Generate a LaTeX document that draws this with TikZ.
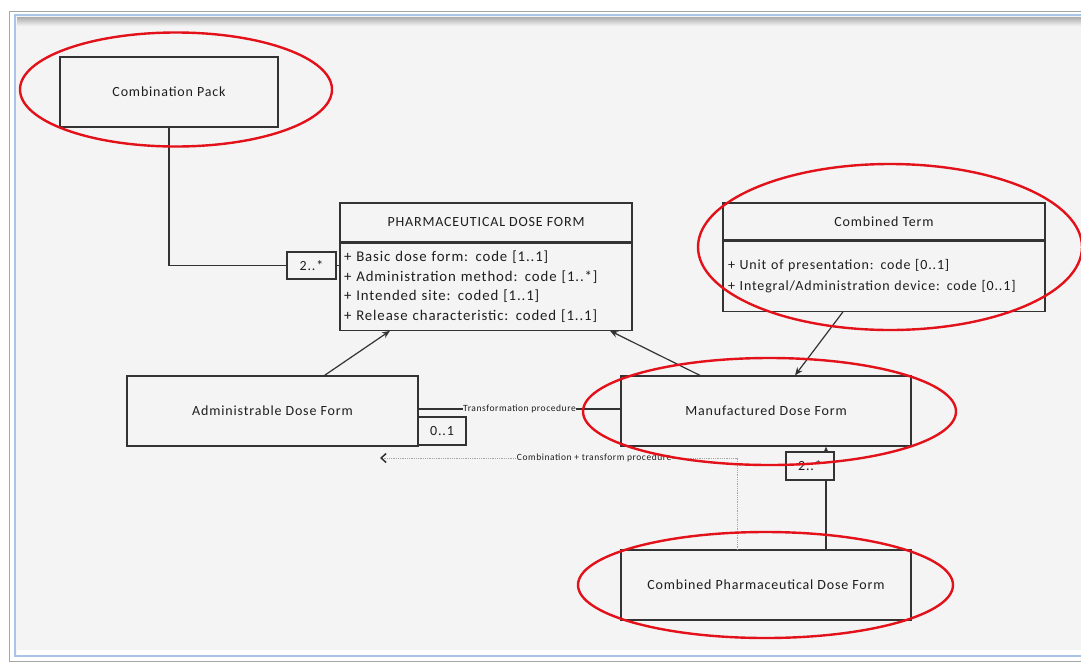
\documentclass[tikz,border=0pt]{standalone}
\usepackage{fontspec}
\setmainfont{Carlito}[LetterSpace=6]
\usetikzlibrary{positioning, arrows.meta}
\tikzset{>={Stealth[length=8pt, width=6.5pt]}}
\definecolor{bg}{HTML}{F4F4F4}
\definecolor{linegray}{HTML}{333333}
\definecolor{textgray}{HTML}{1E1E1E}
\definecolor{ringred}{HTML}{E3121A}
\definecolor{frameblue}{HTML}{A8C4E6}
\tikzset{
  classbox/.style={draw=linegray, line width=1.2pt, text=textgray, inner sep=0pt,
    font=\fontsize{14}{16}\selectfont},
  attrbox/.style={classbox, align=left, anchor=north},
  multbox/.style={classbox, fill=bg, minimum width=48, minimum height=27},
  conn/.style={draw=linegray, line width=1.2pt},
  dotconn/.style={draw=gray!70, line width=0.8pt, densely dotted},
  smalllabel/.style={font=\fontsize{9.5}{11}\selectfont, text=textgray, fill=bg, inner sep=0.5pt},
  ring/.style={draw=ringred, line width=2.4pt}
}

\begin{document}
\begin{tikzpicture}[x=1pt, y=-1pt]
    \useasboundingbox (0,0) rectangle (1081,662);
    % window frame
    \fill[white] (0,0) rectangle (1081,662);
    \draw[gray!70, fill=white] (9,11) rectangle (1090,661);
    \draw[frameblue, line width=1.2pt, fill=bg] (15,15) rectangle (1090,656);
    \shade[top color=gray!65, bottom color=bg] (17,17) rectangle (1090,26);
    \fill[white] (17,650) rectangle (1090,655);

    % classes
    \node[classbox, minimum width=218, minimum height=70] (pack) at (169,92) {Combination Pack};

    \node[classbox, minimum width=292, minimum height=39] (pdfhead) at (486,222.5) {PHARMACEUTICAL DOSE FORM};
    \node[attrbox, minimum width=292, minimum height=87, text width=284,
          font=\fontsize{14.8}{19.7}\selectfont] (pdfattr) at (pdfhead.south)
        {+ Basic dose form: code [1..1]\\
         + Administration method: code [1..*]\\
         + Intended site: coded [1..1]\\
         + Release characteristic: coded [1..1]};

    \node[classbox, minimum width=322, minimum height=37] (cthead) at (884,221.5) {Combined Term};
    \node[attrbox, minimum width=322, minimum height=70, text width=312,
          font=\fontsize{14}{21}\selectfont] (ctattr) at (cthead.south)
        {+ Unit of presentation: code [0..1]\\
         + Integral/Administration device: code [0..1]};

    \node[classbox, minimum width=291, minimum height=70] (adf) at (272.5,411) {Administrable Dose Form};
    \node[classbox, minimum width=290, minimum height=70] (mdf) at (766,411) {Manufactured Dose Form};
    \node[classbox, minimum width=290, minimum height=70] (cpdf) at (766,585) {Combined Pharmaceutical Dose Form};

    % connectors
    \draw[conn] (pack.south) |- (311,265.5) coordinate (packend);
    \draw[conn, ->] ([xshift=52]adf.north) -- ([xshift=-96]pdfattr.south);
    \draw[conn, ->] ([xshift=-66]mdf.north) -- ([xshift=124]pdfattr.south);
    \draw[conn, ->] ([xshift=-41]ctattr.south) -- ([xshift=29]mdf.north);
    \draw[conn] ([yshift=2]adf.east) -- node[smalllabel] {Transformation procedure} ([yshift=2]mdf.west);
    \coordinate (dotend) at (380,458);
    \draw[dotconn, <-, >={Straight Barb[length=5pt, width=9pt, line width=1.5pt, color=linegray]}] (dotend)
        -| node[smalllabel, pos=0.3] {Combination + transform procedure}
        ([xshift=-29]cpdf.north);
    \draw[conn, ->, >={Stealth[length=6pt, width=5pt, open]}] ([xshift=60]cpdf.north) -- ([xshift=60]mdf.south);

    % multiplicities
    \node[multbox, minimum width=49] (multpack) at (311.5,265.5) {2..*};
    \draw[conn] (multpack.east) -- (multpack.east -| pdfattr.west);
    \node[multbox, minimum height=28] (multadf) at (442,431) {0..1};
    \node[multbox, minimum height=28] (multcpdf) at (810,466) {2..*};

    % highlights
    \draw[ring] (176,89.5) ellipse (156 and 57);
    \draw[ring] (890,247) ellipse (192 and 83);
    \draw[ring] (769.5,411.5) ellipse (186.5 and 53.5);
    \draw[ring] (765.5,585) ellipse (187.5 and 53);
\end{tikzpicture}
\end{document}
